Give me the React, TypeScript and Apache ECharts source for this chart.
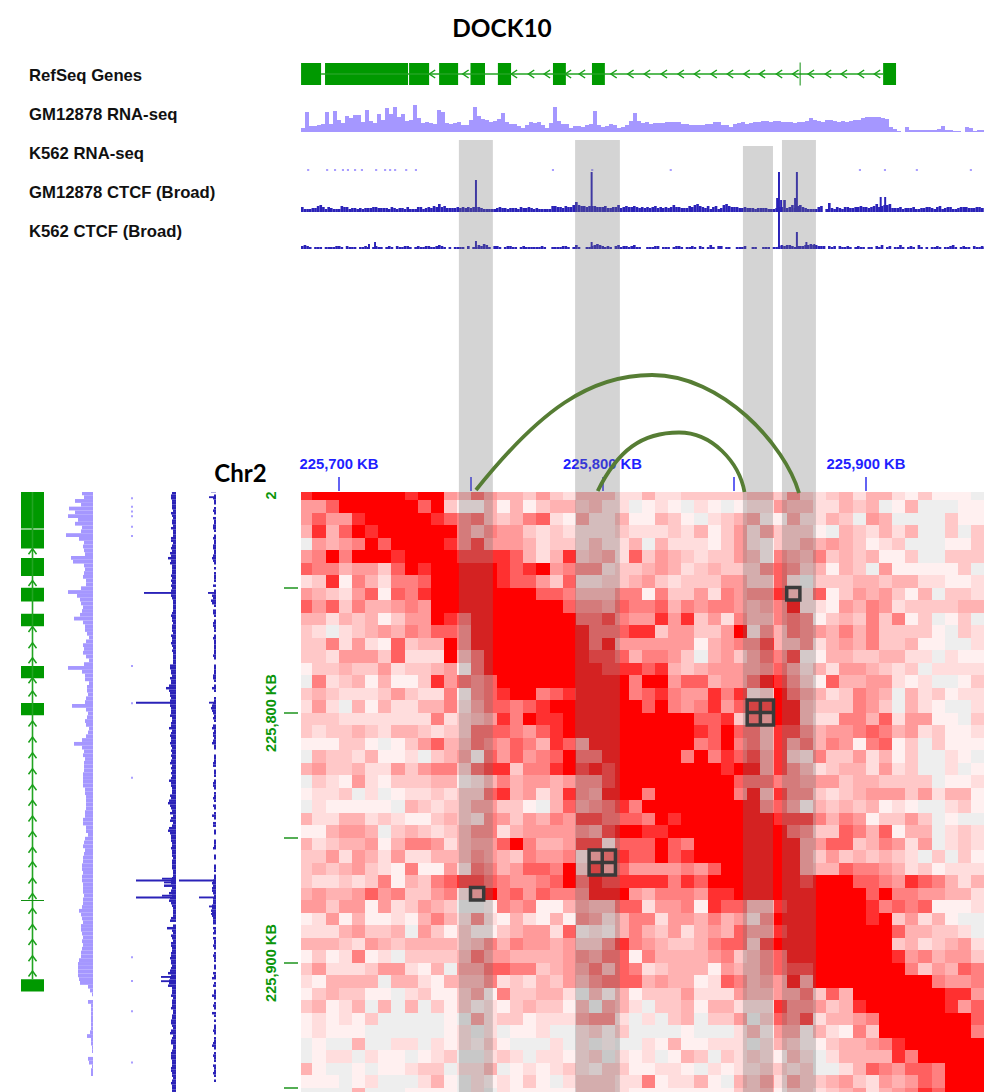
import React, { useEffect, useRef } from "react";
import * as echarts from "echarts";

const heatRows: string[] = [
  "8999999989954754435324442242233333443632342442131110",
  "5579999997931141413443422012102101225442243401400011",
  "5755899999876743467215224114310234511522430540000311",
  "4847989999996465532322223222324135253331043242400303",
  "0545697999986855542332422404222135213354543123000113",
  "5696999899998888742483452735432335416546343411300333",
  "7664553798999998789566623345423433367634143051111130",
  "2381642667999998775372233453233355337203334434422112",
  "5432571768999999997764446616335265668427135453140332",
  "7573644565999999999976657667465665456922154652333344",
  "4424341355987999999997786558583526446761343636130130",
  "3202345465776999999999777883553359264765464633331032",
  "3362521734496999999999795555551456684462454633411002",
  "3325553722294799999999887466530453576811443344220211",
  "1334335233451799999999988878434555567524255432302222",
  "0623414113857679999999999699577455798631744552120013",
  "3432223532261678996789999678655868239754236540423122",
  "2520414224462577678999999979656857889943336530421002",
  "3332222222623458698899999999997783759942266472551103",
  "3233432443233777657899999999998797748864556764523112",
  "1113310135744765764875999999996796748574651671303111",
  "0433241120345175756797799999969687858326335241300210",
  "4533422535663788366898989999999989958642344252300201",
  "0321521333441246455456689999999997776655534433330112",
  "1223020122323378452486599969999996948663234555352441",
  "0211111043233553310475678699999999967514343412100231",
  "4224423211343265354658877769899999998886465133530100",
  "1145540343234662455556589988999999999763376471440232",
  "4234451466524557964458827779769999999955773465250232",
  "3352542522444654365562578779789999999953534343203031",
  "3434532161152764577693857555565799999954476654231222",
  "3223236143678876556797988888687999999989997765876424",
  "4544575633562596757666999546665889999999999796655442",
  "5535515235430016561145447725561877448999999867671112",
  "1251411214642621421416524662554645269999999893524100",
  "2224533405313113455271214643524547558999999997443320",
  "4443254344443464655453368654334677389999999993423452",
  "1312612033334755444456577164444563467999999998564553",
  "3522235521405577663455747623444154467889999999635476",
  "2144440442144462324354677745441276455959999999996556",
  "1343311023113516334420414133352225445573749999999885",
  "3412404040313121343314054203341442228665348999999857",
  "1212130000010523312225662020340335037682445699999997",
  "1211100000012020112002313000010002415514216399999996",
  "0100400220212131000202010021411222024311344568999999",
  "0122021101230023202212302120143032321420244448699999",
  "4100101123302240121232133112210212233230024765776999",
  "1110120002410212131023332261224104352533453254576999",
  "0000400011110202111113332111111113341332345245687999",
];
const heatPalette = ["#eeeeee", "#fff0f0", "#ffdddd", "#ffc8c8", "#ffb2b2", "#ff9a9a", "#ff8080", "#ff6060", "#ff3030", "#ff0000"];

const rnaGm: number[] = [
  4, 20, 6, 6, 7, 8, 20, 8, 21, 12, 9, 16, 14, 17, 17, 10, 22, 11, 9, 18, 12, 24, 18, 25, 15, 18, 11, 12, 27, 14, 9, 10, 9, 8, 22, 20, 9, 8, 9, 10, 7, 7, 12, 25, 16, 13, 12, 10, 11, 13, 19, 10, 8, 8, 6, 4, 7, 10, 9, 10, 7, 4, 9, 25, 11, 8, 8, 4, 6, 6, 5, 7, 8, 21, 7, 5, 6, 8, 7, 4, 5, 7, 11, 19, 11, 9, 10, 8, 9, 9, 9, 10, 10, 10, 10, 8, 8, 7, 7, 7, 7, 8, 8, 10, 10, 7, 7, 5, 8, 9, 10, 8, 9, 10, 10, 11, 11, 10, 11, 11, 10, 10, 10, 9, 10, 10, 11, 14, 12, 11, 10, 12, 12, 11, 10, 11, 10, 11, 12, 12, 14, 15, 15, 15, 15, 14, 13, 5, 3, 1, 0, 5, 2, 2, 2, 2, 2, 2, 2, 3, 6, 2, 2, 1, 1, 0, 5, 4, 1, 2, 2,
];
const rnaK562Kb: number[] = [-12.1, -4.9, -1.9, 1.1, 3, 5.7, 8.3, 13.7, 17.1, 19, 20.9, 25.1, 28.8, 80.8, 95.7, 125.5, 197.3, 206.8, 218.9, 239.4];

const ctcfGmBase: number[] = [
  3, 1, 1, 1, 2, 2, 4, 5, 3, 1, 3, 2, 1, 1, 1, 4, 3, 3, 1, 2, 2, 1, 2, 1, 2, 2, 2, 3, 3, 2, 2, 2, 2, 1, 3, 2, 1, 2, 2, 1, 3, 1, 1, 1, 3, 3, 1, 2, 3, 2, 4, 3, 6, 3, 4, 2, 2, 2, 2, 3,
  2, 3, 2, 3, 2, 3, 3, 3, 2, 1, 1, 1, 1, 1, 2, 3, 2, 2, 1, 2, 2, 2, 1, 3, 2, 2,
  3, 2, 1, 2, 1, 1, 1, 1, 1, 4, 4, 3, 3, 2, 4, 3, 3, 5,
  8, 5, 4, 4, 3, 4, 4, 4, 3, 3, 3, 4, 2, 2, 3, 3, 5, 2, 3, 4, 3, 3, 4, 3, 2,
  3, 2, 3, 2, 3, 4, 2, 3, 2, 3, 2, 3, 5, 3, 3, 2, 2, 2, 4, 3, 5, 6, 4, 3, 2, 4, 1, 3, 4, 1, 2, 5, 6, 4, 3, 3, 3, 2, 2, 3, 2, 2, 2, 1,
  2, 2, 2, 2, 1, 1, 1, 2, 3, 3, 10, 2, 3, 5, 2, 4, 5, 3, 2, 1, 1, 1, 1, 3, 4, 0, 1, 7, 2, 1, 3, 2, 1, 3, 3, 2, 2, 3, 3, 4, 3, 3, 2, 3, 4, 6, 3, 4, 5, 5, 6, 2,
  2, 2, 3, 1, 2, 2, 2, 3, 1, 1, 2, 2, 3, 3, 2, 1, 3, 4, 1, 2, 3, 3, 1, 1, 2, 3, 3, 3, 2, 2, 2, 3, 3, 2, 2, 1, 2, 3, 2, 2, 2, 1, 1, 2, 2, 1, 2,
];
const ctcfGmPeaks: number[][] = [[51.6, 30], [95.5, 38], [165.9, 12], [166.6, 38], [167.4, 10], [172.7, 12], [173.4, 38], [205.2, 13], [206.9, 13]];

const ctcfK562Base: number[] = [
  2, 3, 2, 1, 0, 1, 1, 1, 0, 1, 1, 1, 1, 2, 2, 1, 0, 2, 1, 1, 1, 0, 1, 1, 2, 1, 0, 1, 2, 1, 1, 0,
  1, 2, 1, 0, 2, 1, 1, 2, 2, 1, 0, 1, 2, 1, 1, 2, 2, 1, 1, 2, 3, 2, 1, 0, 1, 0,
  1, 1, 1, 1, 0, 2, 0, 1, 1, 3, 2, 4, 3, 1, 0, 2, 2, 1, 0, 1, 2, 2, 1, 1, 0, 1, 2, 1, 1, 1, 1, 1, 1, 2, 1, 0, 0, 1, 1, 1, 1, 2, 2, 1, 0, 1, 3, 1, 0, 0,
  1, 1, 2, 3, 4, 3, 2, 1, 2, 1, 0, 2, 3, 1, 2, 2, 1, 2, 3, 1, 1, 0, 0, 1, 1, 1, 2, 2, 0, 1, 1, 1, 0, 1, 2, 2, 1, 0, 1, 1, 2, 1, 0, 2, 1, 0, 1, 3, 1, 0, 2, 2, 0, 1, 1, 0, 0, 1, 1, 1, 2, 0, 0, 1, 1, 0, 0, 1, 1, 1, 0,
  1, 1, 2, 3, 2, 3, 3, 2, 1, 2, 2, 2, 3, 3, 4, 3, 3, 2, 2, 2, 0, 2, 1, 2, 0, 2, 1, 1, 2, 1, 0, 1, 2, 1, 1, 0, 1, 1, 0, 2, 1, 3, 0, 1, 2, 0, 1, 1, 3, 1, 0, 1, 2, 1, 0, 3, 1, 0, 1, 0, 1,
  1, 2, 1, 0, 1, 1, 2, 3, 1, 0, 1, 2, 1, 1, 0, 2, 1, 1, 2, 1, 0, 1,
];
const ctcfK562Peaks: number[][] = [[11, 4], [13.3, 6], [51.6, 7], [95.5, 6], [166.6, 36], [173.4, 16], [177, 6], [180, 4]];

const exons: number[][] = [[-14.4, -6.8], [-5.3, 26.2], [26.6, 34.2], [38, 45.2], [49.9, 55.4], [60.3, 65.3], [81.2, 86.1], [96, 100.9], [206.5, 211.4]];
const intron: number[] = [-6.8, 206.5];
const geneTick: number[] = [175];
const chevrons: number[] = [35.3, 48, 66.4, 72.9, 78.9, 86.9, 92.2, 104.2, 110.6, 116.9, 123.3, 129.7, 135.9, 142.2, 148.4, 154.7, 160.5, 167, 173.2, 179.1, 185.6, 191.6, 198.1, 204.2];

const bandsKb: number[][] = [[45.5, 58.4, 140], [89.6, 106.6, 140], [153.3, 164.7, 146], [168.1, 181, 140]];
const boxes: number[][] = [[34, 17, 2], [37, 8, 1], [22, 29, 2], [13, 32, 1]];

const trackLabels: string[] = ["RefSeq Genes", "GM12878 RNA-seq", "K562 RNA-seq", "GM12878 CTCF (Broad)", "K562 CTCF (Broad)"];
const xLabelTicks: number[] = [225700, 225800, 225900];
const xMinorTicks: number[] = [225700, 225750, 225800, 225850, 225900];
const yLabelTicks: number[] = [225713, 225800, 225900];
const yMinorTicks: number[] = [225750, 225800, 225850, 225900, 225950];

const KB0 = 225700;
const X_SCALE = 2.635;
const xMin = KB0 + (301 - 339) / X_SCALE;
const xMax = KB0 + (984 - 339) / X_SCALE;
const yMin = KB0 + (492 - 463) / 2.5;
const yMax = KB0 + (1092 - 463) / 2.5;
const CELL_X0 = 225684.91;
const CELL_Y0 = 225709.8;

const GREEN = "#009900";
const kbToPx = (k: number) => 339 + k * X_SCALE;
const fmtKb = (v: number) => (v < 225750 && v !== 225700 ? "2" : `${Math.floor(v / 1000)},${String(v % 1000).padStart(3, "0")} KB`);

const heatData = heatRows.flatMap((row, r) =>
  Array.from(row).map((ch, c) => [CELL_X0 + 5 * c, CELL_Y0 + 5 * r, Number(ch)])
);
const rnaData = rnaGm.map((v, i) => [xMin + i * 1.518, v, 1.518, 0]);
const gmData = ctcfGmBase.map((v, i) => [xMin + i, v, 1, -2]).concat(ctcfGmPeaks.map(([k, h]) => [KB0 + k, h, 0.75, -2]));
const k562Data = ctcfK562Base.map((v, i) => [xMin + i, v, 1, -1]).concat(ctcfK562Peaks.map(([k, h]) => [KB0 + k, h, 0.75, -1]));
const dotsData = rnaK562Kb.map((k) => [KB0 + k, 2, 0.8, 0]);
const geneData: number[][] = [
  ...exons.map(([a, b]) => [0, KB0 + a, KB0 + b]),
  [1, KB0 + intron[0], KB0 + intron[1]],
  ...geneTick.map((k) => [2, KB0 + k, KB0 + k]),
  ...chevrons.map((k) => [3, KB0 + k, KB0 + k]),
];

function heatItem(params: any, api: any) {
  const a = api.coord([api.value(0), api.value(1)]);
  const b = api.coord([api.value(0) + 5, api.value(1) + 5]);
  const shape = echarts.graphic.clipRectByRect(
    { x: Math.round(a[0]), y: Math.round(a[1]), width: Math.round(b[0]) - Math.round(a[0]), height: Math.round(b[1]) - Math.round(a[1]) },
    params.coordSys
  );
  if (!shape) return null;
  return { type: "rect", shape, style: { fill: heatPalette[api.value(2)] ?? "#eeeeee" } };
}

function boxItem(_p: any, api: any) {
  const c = api.value(0), r = api.value(1), n = api.value(2);
  const a = api.coord([CELL_X0 + 5 * c, CELL_Y0 + 5 * r]);
  const b = api.coord([CELL_X0 + 5 * (c + n), CELL_Y0 + 5 * (r + n)]);
  const style = { stroke: "#3a3a3a", fill: "none", lineWidth: 3.5 };
  const children: any[] = [{ type: "rect", shape: { x: a[0], y: a[1], width: b[0] - a[0], height: b[1] - a[1] }, style }];
  if (n === 2) {
    const mx = (a[0] + b[0]) / 2, my = (a[1] + b[1]) / 2;
    children.push({ type: "line", shape: { x1: mx, y1: a[1], x2: mx, y2: b[1] }, style });
    children.push({ type: "line", shape: { x1: a[0], y1: my, x2: b[0], y2: my }, style });
  }
  return { type: "group", children };
}

const profileItem = (horizontal: boolean, fill: string) => (params: any, api: any) => {
  const k = api.value(0), v = api.value(1), w = api.value(2), base = api.value(3);
  if (!v) return null;
  const p1 = horizontal ? api.coord([k, base]) : api.coord([base, k]);
  const p2 = horizontal ? api.coord([k + w, v]) : api.coord([v, k + w]);
  const shape = echarts.graphic.clipRectByRect(
    { x: Math.min(p1[0], p2[0]), y: Math.min(p1[1], p2[1]), width: Math.abs(p2[0] - p1[0]), height: Math.abs(p2[1] - p1[1]) },
    params.coordSys
  );
  if (!shape) return null;
  return { type: "rect", shape, style: { fill } };
};

const geneItem = (horizontal: boolean) => (params: any, api: any) => {
  const kind = api.value(0), a = api.value(1), b = api.value(2);
  const pt = (k: number, v: number) => (horizontal ? api.coord([k, v]) : api.coord([v, k]));
  if (kind === 0) {
    const p1 = pt(a, -12), p2 = pt(b, 12);
    const shape = echarts.graphic.clipRectByRect(
      { x: Math.min(p1[0], p2[0]), y: Math.min(p1[1], p2[1]), width: Math.abs(p2[0] - p1[0]), height: Math.abs(p2[1] - p1[1]) },
      params.coordSys
    );
    return shape ? { type: "rect", shape, style: { fill: GREEN } } : null;
  }
  if (kind === 1) {
    const p1 = pt(a, 0), p2 = pt(b, 0);
    const r = params.coordSys;
    const line = horizontal
      ? { x1: Math.max(p1[0], r.x), y1: p1[1], x2: Math.min(p2[0], r.x + r.width), y2: p2[1] }
      : { x1: p1[0], y1: Math.max(p1[1], r.y), x2: p2[0], y2: Math.min(p2[1], r.y + r.height) };
    return { type: "line", shape: line, style: { stroke: "#22a522", lineWidth: 1.6 } };
  }
  if (kind === 2) {
    const p1 = pt(a, -11.5), p2 = pt(a, 11.5);
    return { type: "line", shape: { x1: p1[0], y1: p1[1], x2: p2[0], y2: p2[1] }, style: { stroke: "#118f11", lineWidth: 1 } };
  }
  const points = [pt(a + 1.2, -4), pt(a - 1, 0), pt(a + 1.2, 4)];
  return { type: "polyline", shape: { points }, style: { stroke: "#1aa01a", fill: "none", lineWidth: 1.5 } };
};

export default function App() {
  const ref = useRef<HTMLDivElement>(null);
  useEffect(() => {
    document.body.style.margin = "0";
    const chart = echarts.init(ref.current!, null, { renderer: "svg", width: 984, height: 1092 });

    const topTracks = [
      { top: 63, h: 22, min: -11, max: 11 },
      { top: 104, h: 28, min: 0, max: 28 },
      { top: 160, h: 11, min: 0, max: 11 },
      { top: 160, h: 52, min: -2, max: 50 },
      { top: 198, h: 52, min: -2, max: 50 },
    ];
    const leftTracks = [
      { left: 21, w: 23, min: -11.5, max: 11.5 },
      { left: 65, w: 28, min: 0, max: 28 },
      { left: 122, w: 11, min: 0, max: 11 },
      { left: 124, w: 52, min: -2, max: 50 },
      { left: 165, w: 52, min: -2, max: 50 },
    ];
    const grid: any[] = [{ left: 301, top: 492, width: 683, height: 600 }];
    const xAxis: any[] = [
      {
        type: "value", gridIndex: 0, position: "top", min: xMin, max: xMax, offset: 1,
        axisLine: { show: false }, splitLine: { show: false },
        axisTick: { show: true, customValues: xMinorTicks, length: 14, lineStyle: { color: "#3c3cf0", width: 1.6 } },
        axisLabel: { show: true, customValues: xLabelTicks, margin: 20, formatter: fmtKb, color: "#1f1fff", fontFamily: "Liberation Sans", fontWeight: "bold", fontSize: 14.8 },
      },
    ];
    const yAxis: any[] = [
      {
        type: "value", gridIndex: 0, position: "left", inverse: true, min: yMin, max: yMax, offset: 3,
        axisLine: { show: false }, splitLine: { show: false },
        axisTick: { show: true, customValues: yMinorTicks, length: 14, lineStyle: { color: "#2a9a2a", width: 1.6 } },
        axisLabel: { show: true, customValues: yLabelTicks, rotate: 90, margin: 20, formatter: fmtKb, color: "#0b960b", fontFamily: "Liberation Sans", fontWeight: "bold", fontSize: 14.6 },
      },
    ];
    topTracks.forEach((t) => {
      const i = grid.length;
      grid.push({ left: 301, width: 683, top: t.top, height: t.h });
      xAxis.push({ type: "value", gridIndex: i, min: xMin, max: xMax, show: false });
      yAxis.push({ type: "value", gridIndex: i, min: t.min, max: t.max, show: false });
    });
    leftTracks.forEach((t) => {
      const i = grid.length;
      grid.push({ left: t.left, width: t.w, top: 492, height: 600 });
      xAxis.push({ type: "value", gridIndex: i, min: t.min, max: t.max, inverse: true, show: false });
      yAxis.push({ type: "value", gridIndex: i, min: yMin, max: yMax, inverse: true, show: false });
    });

    const custom = (idx: number, data: number[][], renderItem: any, encode: any, z = 2) => ({
      type: "custom", xAxisIndex: idx, yAxisIndex: idx, data, renderItem, encode, z, silent: true, clip: false, progressive: 0, animation: false,
    });
    const H = { x: 0, y: 1 };
    const V = { x: 1, y: 0 };
    const series: any[] = [
      custom(0, heatData, heatItem, { x: 0, y: 1 }),
      custom(0, boxes, boxItem, { x: [], y: [] }, 200),
      custom(1, geneData, geneItem(true), { x: 1, y: 0 }),
      custom(2, rnaData, profileItem(true, "#a597ff"), H),
      custom(3, dotsData, profileItem(true, "#a99eff"), H),
      custom(4, gmData, profileItem(true, "#2a22b8"), H),
      custom(5, k562Data, profileItem(true, "#2a22b8"), H),
      custom(6, geneData, geneItem(false), { x: 0, y: 1 }),
      custom(7, rnaData, profileItem(false, "#a597ff"), V),
      custom(8, dotsData, profileItem(false, "#a99eff"), V),
      custom(9, gmData, profileItem(false, "#2a22b8"), V),
      custom(10, k562Data, profileItem(false, "#2a22b8"), V),
    ];

    const labelYs = [75, 114, 153, 192, 231];
    const graphic: any[] = [
      ...bandsKb.map(([a, b, top]) => ({
        type: "rect", silent: true, z: 100,
        shape: { x: kbToPx(a), y: top, width: kbToPx(b) - kbToPx(a), height: 1092 - top },
        style: { fill: "rgba(112,112,112,0.3)" },
      })),
      ...trackLabels.map((text, i) => ({
        type: "text", x: 29, y: labelYs[i], z: 120,
        style: { text, fill: "#111111", font: "bold 16.7px 'Liberation Sans'", textAlign: "left", textVerticalAlign: "middle" },
      })),
      {
        type: "text", x: 240.5, y: 472, z: 120,
        style: { text: "Chr2", fill: "#000000", font: "bold 24px Lato", textAlign: "center", textVerticalAlign: "middle" },
      },
      {
        type: "bezierCurve", z: 150, silent: true,
        shape: { x1: 476, y1: 490, cpx1: 540, cpy1: 410, cpx2: 590, cpy2: 375, x2: 652, y2: 375 },
        style: { stroke: "#567d34", fill: "none", lineWidth: 3.8 },
      },
      {
        type: "bezierCurve", z: 150, silent: true,
        shape: { x1: 652, y1: 375, cpx1: 722, cpy1: 375, cpx2: 785, cpy2: 445, x2: 799, y2: 493 },
        style: { stroke: "#567d34", fill: "none", lineWidth: 3.8 },
      },
      {
        type: "bezierCurve", z: 150, silent: true,
        shape: { x1: 597.7, y1: 491, cpx1: 618, cpy1: 450, cpx2: 642, cpy2: 432.5, x2: 679, y2: 432.5 },
        style: { stroke: "#567d34", fill: "none", lineWidth: 3.8 },
      },
      {
        type: "bezierCurve", z: 150, silent: true,
        shape: { x1: 679, y1: 432.5, cpx1: 712, cpy1: 432.5, cpx2: 739, cpy2: 462, x2: 744.5, y2: 492 },
        style: { stroke: "#567d34", fill: "none", lineWidth: 3.8 },
      },
    ];

    chart.setOption({
      animation: false,
      backgroundColor: "#ffffff",
      title: { text: "DOCK10", left: 497, top: 10, textAlign: "center", textStyle: { fontFamily: "Lato", fontWeight: "bold", fontSize: 24.4, color: "#000000" } },
      tooltip: { show: false },
      grid, xAxis, yAxis, series, graphic,
    });
    return () => chart.dispose();
  }, []);
  return <div ref={ref} style={{ position: "absolute", left: 0, top: 0, width: 984, height: 1092 }} />;
}
